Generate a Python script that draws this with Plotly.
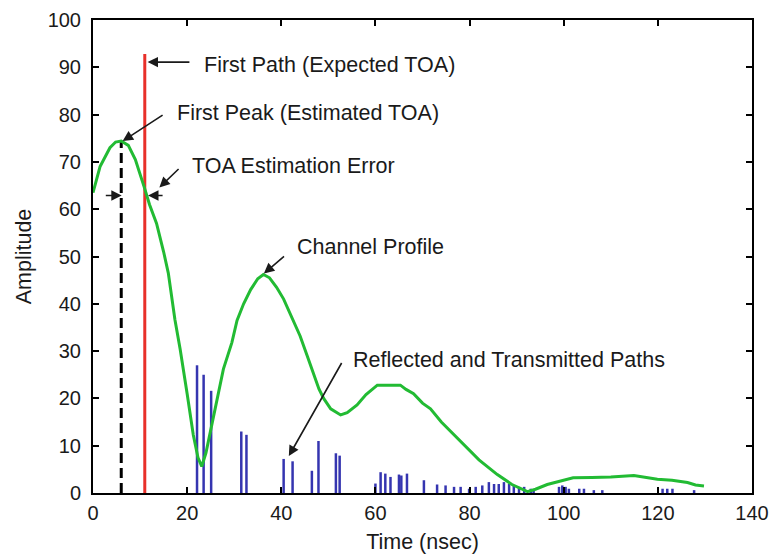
import plotly.graph_objects as go

# Channel profile (green curve)
profile_t = [0, 1.5, 3.6, 4.8, 6.0, 7.5, 9.0, 10.5, 11.0, 12.0, 13.5, 15.0, 16.0, 17.4, 18.5,
             20.0, 21.3, 22.3, 23.1, 24.0, 25.3, 26.5, 27.7, 29.5, 30.6, 32.0, 33.5, 35.0,
             36.2, 37.5, 39.0, 40.5, 42.0, 44.0, 45.5, 46.9, 48.0, 49.0, 50.5, 52.6, 54.0,
             56.1, 58.0, 60.4, 65.3, 66.5, 68.1, 70.0, 71.7, 74.0, 76.0, 78.8, 82.0, 85.9,
             89.0, 92.3, 94.0, 96.5, 98.7, 100.0, 102.0, 106.0, 110.0, 114.9, 116.0, 119.9,
             123.0, 126.3, 128.0, 129.8]
profile_amp = [63.5, 69.0, 73.0, 74.2, 74.4, 73.5, 70.5, 66.0, 64.3, 61.0, 57.0, 51.0, 46.5,
               36.7, 30.5, 21.0, 12.3, 7.5, 5.6, 8.5, 15.0, 21.0, 26.2, 31.8, 36.5, 40.0,
               43.0, 45.3, 46.2, 45.5, 43.5, 41.0, 37.5, 33.2, 29.0, 25.0, 22.0, 20.0, 17.8,
               16.5, 17.0, 18.6, 20.8, 22.8, 22.8, 21.9, 21.0, 19.0, 17.8, 15.0, 13.0, 10.2,
               7.0, 3.9, 1.8, 0.3, 0.8, 1.8, 2.4, 2.8, 3.2, 3.3, 3.4, 3.7, 3.5, 2.9, 2.7,
               2.2, 1.7, 1.5]

# Reflected and transmitted paths (blue spikes)
path_t = [22.1, 23.5, 25.1, 31.5, 32.6, 40.5, 42.4, 46.5, 47.9, 51.6, 52.4, 60.0, 61.1, 62.1,
          63.2, 65.0, 65.5, 66.7, 70.3, 73.1, 74.9, 76.7, 78.1, 79.9, 81.3, 82.7, 84.1, 85.2,
          86.2, 87.3, 88.4, 89.4, 90.5, 91.6, 93.0, 93.6, 99.0, 99.7, 100.4, 101.1, 103.3,
          104.3, 106.4, 108.2, 121.0, 122.0, 123.1, 127.7]
path_amp = [27.0, 25.0, 21.6, 13.0, 12.3, 7.2, 6.7, 4.7, 11.0, 8.4, 7.9, 2.0, 4.4, 4.1, 3.4,
            3.9, 3.7, 4.1, 2.7, 1.8, 1.6, 1.3, 1.3, 0.9, 1.3, 1.6, 2.3, 1.9, 1.9, 2.3, 1.9,
            1.6, 1.3, 1.3, 0.9, 0.8, 1.3, 1.6, 1.3, 0.9, 0.9, 0.9, 0.6, 0.6, 0.9, 0.9, 0.9, 0.6]

# First path (expected TOA) and first peak (estimated TOA)
first_path_t, first_path_amp = 11.0, 92.8
first_peak_t, first_peak_amp = 6.0, 74.4

x_ticks = [0, 20, 40, 60, 80, 100, 120, 140]
y_ticks = [0, 10, 20, 30, 40, 50, 60, 70, 80, 90, 100]

FONT = "Liberation Sans, Arial, Helvetica, sans-serif"
TXT = "#1a1a1a"
FS = 21.5
TFS = 20

fig = go.Figure()

# blue spikes
sx, sy = [], []
for t, a in zip(path_t, path_amp):
    sx += [t, t, None]
    sy += [0, a, None]
fig.add_trace(go.Scatter(x=sx, y=sy, mode="lines",
                         line=dict(color="#3535b0", width=2.5), hoverinfo="skip"))

# first peak dashed line
fig.add_trace(go.Scatter(x=[first_peak_t, first_peak_t], y=[0, first_peak_amp], mode="lines",
                         line=dict(color="black", width=3, dash="10px,5px")))

# first path red line
fig.add_trace(go.Scatter(x=[first_path_t, first_path_t], y=[0, first_path_amp], mode="lines",
                         line=dict(color="#e8302a", width=3)))

# channel profile
fig.add_trace(go.Scatter(x=profile_t, y=profile_amp, mode="lines",
                         line=dict(color="#22bb33", width=3)))

def arrow(x, y, ax, ay):
    fig.add_annotation(x=x, y=y, ax=ax, ay=ay, xref="x", yref="y", axref="x", ayref="y",
                       text="", showarrow=True, arrowhead=2, arrowsize=1.3, arrowwidth=1.6,
                       arrowcolor="#1a1a1a")

def label(x, y, s):
    fig.add_annotation(x=x, y=y, xref="x", yref="y", text=s, showarrow=False,
                       xanchor="left", yanchor="middle",
                       font=dict(family=FONT, size=FS, color=TXT))

arrow(11.6, 91.1, 20.8, 91.1)
label(23.1, 90.4, "First Path (Expected TOA)")
arrow(6.3, 74.4, 15.1, 80.1)
label(17.4, 80.4, "First Peak (Estimated TOA)")
arrow(14.1, 64.6, 18.5, 68.8)
label(20.6, 69.1, "TOA Estimation Error")
arrow(6.1, 62.9, 2.4, 62.9)
arrow(11.7, 62.9, 15.1, 62.9)
arrow(36.3, 46.4, 40.9, 50.3)
label(42.9, 52.1, "Channel Profile")
arrow(41.6, 7.8, 53.0, 27.8)
label(54.9, 28.1, "Reflected and Transmitted Paths")

axis_common = dict(showline=True, linecolor="black", linewidth=2, mirror="ticks",
                   ticks="inside", ticklen=6, tickwidth=2, tickcolor="black",
                   showgrid=False, zeroline=False, automargin=False,
                   ticklabeloverflow="allow",
                   tickfont=dict(family=FONT, size=TFS, color=TXT))

fig.update_xaxes(range=[0, 140], tickvals=x_ticks, ticklabelstandoff=1,
                 title=dict(text="Time (nsec)", font=dict(family=FONT, size=FS, color=TXT),
                            standoff=11),
                 **axis_common)
fig.update_yaxes(range=[0, 100], tickvals=y_ticks, ticklabelstandoff=6,
                 title=dict(text="Amplitude", font=dict(family=FONT, size=FS, color=TXT),
                            standoff=10),
                 **axis_common)

fig.update_layout(width=771, height=548, showlegend=False,
                  margin=dict(l=85, r=27, t=12, b=63),
                  plot_bgcolor="white", paper_bgcolor="white",
                  font=dict(family=FONT, size=FS, color=TXT))

fig.write_html("out.html")
